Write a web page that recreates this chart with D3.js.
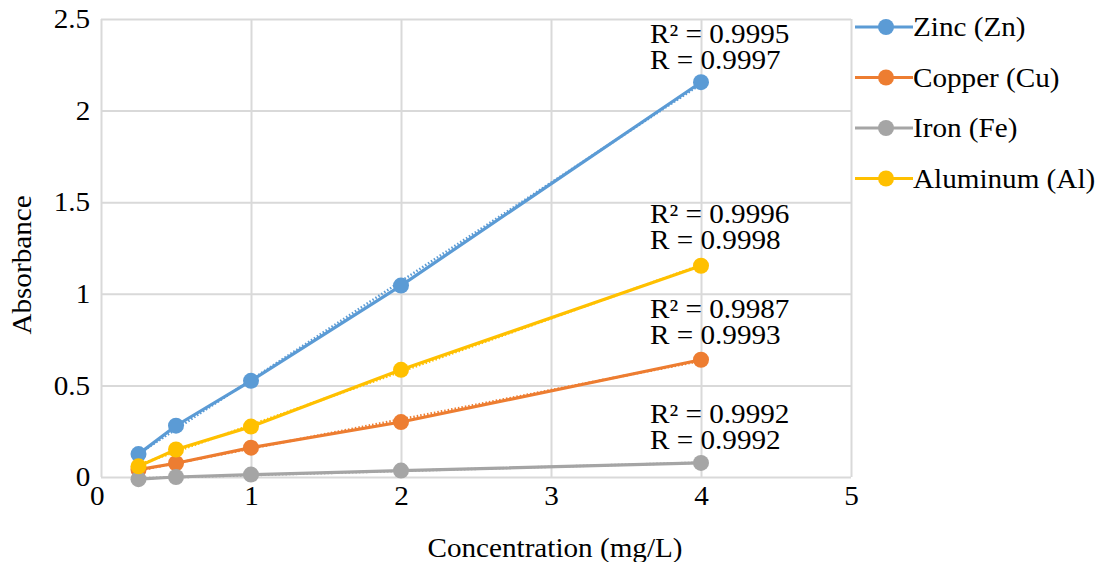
<!DOCTYPE html>
<html><head><meta charset="utf-8">
<script src="https://cdn.jsdelivr.net/npm/d3@7"></script>
<style>body{margin:0;background:#fff}svg{display:block}text{font-family:"Liberation Serif","Times New Roman",serif;fill:#000}</style>
</head><body><svg id="c" width="1100" height="562"></svg>
<script>
const concentrations = [0.25, 0.5, 1, 2, 4];
const zinc = [0.125, 0.28, 0.525, 1.045, 2.155];
const copper = [0.04, 0.075, 0.16, 0.30, 0.64];
const iron = [-0.012, 0.0, 0.013, 0.035, 0.077];
const aluminum = [0.058, 0.15, 0.275, 0.585, 1.153];
const seriesNames = ["Zinc (Zn)", "Copper (Cu)", "Iron (Fe)", "Aluminum (Al)"];
const seriesColors = ["#5B9BD5", "#ED7D31", "#A5A5A5", "#FFC000"];
const r2Labels = ["R² = 0.9995", "R² = 0.9987", "R² = 0.9992", "R² = 0.9996"];
const rLabels = ["R = 0.9997", "R = 0.9993", "R = 0.9992", "R = 0.9998"];
const labelAnchorY = [2.369, 0.868, 0.295, 1.386]; // data-space y of label block (R² line baseline)
const xTicks = [0, 1, 2, 3, 4, 5];
const yTicks = [0, 0.5, 1, 1.5, 2, 2.5];

const allSeries = [zinc, copper, iron, aluminum];
const svg = d3.select("#c");
const x = d3.scaleLinear().domain([0, 5]).range([101, 851]);
const y = d3.scaleLinear().domain([0, 2.5]).range([477, 19]);
const grid = "#D9D9D9";
const fs = 27, sx = 1.08;

function txt(px, py, str, anchor, rot) {
  return svg.append("text")
    .attr("transform", `translate(${px},${py})${rot ? " rotate(" + rot + ")" : ""} scale(${sx},1)`)
    .attr("text-anchor", anchor || "start").style("font-size", fs + "px").text(str);
}

// gridlines
svg.append("g").attr("transform", "translate(101,0)")
  .call(d3.axisLeft(y).tickValues(yTicks).tickSize(-(851-101)).tickFormat(""))
  .call(g => g.select(".domain").remove())
  .call(g => g.selectAll("line").attr("stroke", grid).attr("stroke-width", 2));
svg.append("g").attr("transform", "translate(0,477)")
  .call(d3.axisBottom(x).tickValues(xTicks).tickSize(-(477-19)).tickFormat(""))
  .call(g => g.select(".domain").remove())
  .call(g => g.selectAll("line").attr("stroke", grid).attr("stroke-width", 2));

// tick labels
const yAx = svg.append("g").attr("transform", "translate(101,0)")
  .call(d3.axisLeft(y).tickValues(yTicks).tickSize(0).tickPadding(10).tickFormat(d3.format("")));
yAx.select(".domain").remove();
yAx.selectAll("text").style("font-size", fs + "px").style("font-family", "Liberation Serif").attr("fill", "#000")
  .attr("transform", `scale(${sx},1)`);
const xAx = svg.append("g").attr("transform", "translate(0,477)")
  .call(d3.axisBottom(x).tickValues(xTicks).tickSize(0).tickPadding(9).tickFormat(d3.format("")));
xAx.select(".domain").remove();
xAx.selectAll("text").style("font-size", fs + "px").style("font-family", "Liberation Serif").attr("fill", "#000")
  .attr("transform", `scale(${sx},1)`);
xAx.selectAll(".tick").filter(d => d === 0).select("text").attr("dx", -4);

// axis titles
txt(555, 557, "Concentration (mg/L)", "middle");
txt(31, 265, "Absorbance", "middle", -90);

const line = d3.line().x((d, i) => x(concentrations[i])).y(d => y(d));
allSeries.forEach((vals, si) => {
  const col = seriesColors[si];
  const g = svg.append("g");
  g.append("path").attr("d", line(vals)).attr("fill", "none").attr("stroke", col).attr("stroke-width", 3.2);
  // linear trendline (dotted), least squares of the data
  const n = vals.length;
  const mx = d3.mean(concentrations), my = d3.mean(vals);
  let sxy = 0, sxx = 0;
  concentrations.forEach((c, i) => { sxy += (c - mx) * (vals[i] - my); sxx += (c - mx) ** 2; });
  const b = sxy / sxx, a = my - b * mx;
  const x0 = concentrations[0], x1 = concentrations[n - 1];
  g.append("line").attr("x1", x(x0)).attr("x2", x(x1)).attr("y1", y(a + b * x0)).attr("y2", y(a + b * x1))
    .attr("stroke", col).attr("stroke-width", 2.5).attr("stroke-dasharray", "1.5,2");
  g.selectAll("circle").data(vals).join("circle")
    .attr("cx", (d, i) => x(concentrations[i])).attr("cy", d => y(d)).attr("r", 8).attr("fill", col);
});

// R annotations
allSeries.forEach((vals, si) => {
  const by = y(labelAnchorY[si]);
  txt(650, by, r2Labels[si]);
  txt(650, by + 26, rLabels[si]);
});

// legend
seriesNames.forEach((nm, i) => {
  const ly = 27 + i * 50.5;
  svg.append("line").attr("x1", 855).attr("x2", 913).attr("y1", ly).attr("y2", ly).attr("stroke", seriesColors[i]).attr("stroke-width", 3.2);
  svg.append("circle").attr("cx", 886).attr("cy", ly).attr("r", 8).attr("fill", seriesColors[i]);
  txt(913, ly + 9, nm);
});
</script></body></html>
